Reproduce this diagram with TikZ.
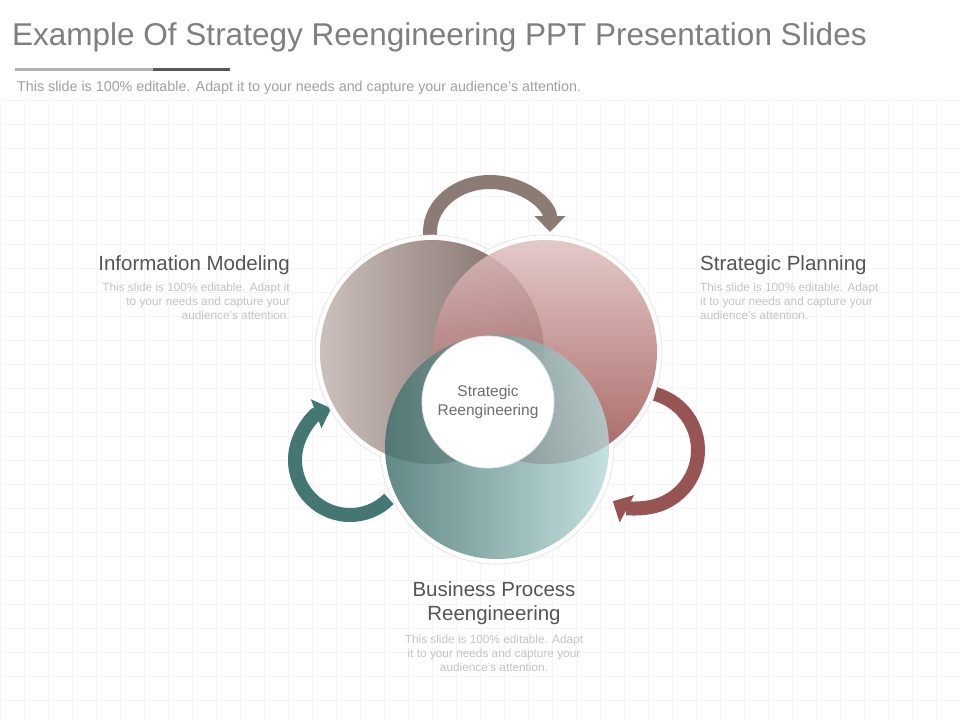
\documentclass[tikz,border=0pt]{standalone}
\usepackage{fontspec}
\setmainfont{Liberation Sans}
\usetikzlibrary{arrows.meta,calc}
\definecolor{ttl}{HTML}{7F7F7F}
\definecolor{sub}{HTML}{A0A0A0}
\definecolor{hd}{HTML}{555555}
\definecolor{ds}{HTML}{C4C4C4}
\definecolor{grd}{HTML}{F5F5F5}
\tikzset{
  title/.style={anchor=west,text=ttl,font=\fontsize{31.5}{33}\selectfont,inner sep=0},
  subt/.style={anchor=west,text=sub,font=\fontsize{14.3}{16}\selectfont,inner sep=0},
  head/.style={text=hd,font=\fontsize{20.5}{24}\selectfont,inner sep=0},
  desc/.style={text=ds,font=\fontsize{11.8}{14}\selectfont,inner sep=0},
  rim/.style={fill=white,draw=black!12,line width=0.6pt},
  arr/.style={line width=14pt,-{Triangle[width=30pt,length=16pt]}},
}
\begin{document}
\begin{tikzpicture}[x=1pt,y=-1pt]
\useasboundingbox (0,0) rectangle (960,720);
\fill[white] (0,0) rectangle (960,720);
\foreach \i in {0,24,...,960} {\draw[grd,line width=0.5pt] (\i,100) -- (\i,720);}
\foreach \j in {100,124,...,720} {\draw[grd,line width=0.5pt] (0,\j) -- (960,\j);}
% title
\node[title] (t) at (12,37) {Example Of Strategy Reengineering PPT Presentation Slides};
\fill[black!30] (15,67.5) rectangle (153,70.5);
\fill[black!65] (153,67.5) rectangle (230,70.5);
\node[subt] (s) at (17,88) {This slide is 100\% editable. Adapt it to your needs and capture your audience's attention.};
% arrows
\draw[arr,color={rgb,255:red,140;green,122;blue,116}] (430,245) -- (430,232) arc[start angle=180,end angle=360,x radius=60,y radius=50];
\draw[arr,color={rgb,255:red,150;green,84;blue,82}] ($(640,450)+(-75:58)$) arc[start angle=-75,end angle=118,radius=58];
\draw[arr,color={rgb,255:red,68;green,118;blue,116}] ($(350,460)+(45:55)$) arc[start angle=45,end angle=250,radius=55];
% rims
\path[rim] (432,352) circle[radius=117];
\path[rim] (545,352) circle[radius=117];
\path[rim] (497,447) circle[radius=117];
% fills
\shade[left color={rgb,255:red,204;green,192;blue,188},right color={rgb,255:red,120;green,100;blue,94}] (432,352) circle[radius=112];
\shade[top color={rgb,255:red,224;green,192;blue,192},bottom color={rgb,255:red,152;green,76;blue,74},opacity=0.85] (545,352) circle[radius=112];
\shade[left color={rgb,255:red,60;green,108;blue,106},right color={rgb,255:red,182;green,216;blue,216},opacity=0.8] (497,447) circle[radius=112];
% centre
\node[circle,fill=white,draw=black!10,line width=0.8pt,minimum size=132pt,inner sep=0,align=center,text={rgb,255:red,110;green,110;blue,110},font=\fontsize{15.5}{19}\selectfont] (c) at (488,402) {Strategic\\Reengineering};
% labels
\node[head,anchor=east] (im) at (290,265) {Information Modeling};
\node[desc,anchor=north east,align=right] (imd) at (290,283) {This slide is 100\% editable. Adapt it\\to your needs and capture your\\audience's attention.};
\node[head,anchor=west] (sp) at (700,265) {Strategic Planning};
\node[desc,anchor=north west,align=left] (spd) at (700,283) {This slide is 100\% editable. Adapt\\it to your needs and capture your\\audience's attention.};
\node[head,align=center,anchor=north] (bp) at (494,581) {Business Process\\Reengineering};
\node[desc,align=center,anchor=north] (bpd) at (494,635) {This slide is 100\% editable. Adapt\\it to your needs and capture your\\audience's attention.};
\end{tikzpicture}
\end{document}
